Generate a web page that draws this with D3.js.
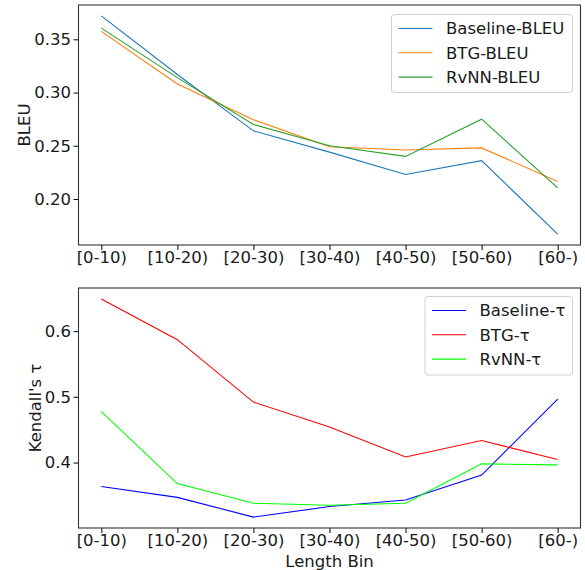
<!DOCTYPE html>
<html><head><meta charset="utf-8">
<script src="https://cdn.jsdelivr.net/npm/d3@7"></script>
<style>body{margin:0;background:#fff}svg{display:block;font-family:"DejaVu Sans",sans-serif}</style>
</head><body><svg id="c" width="585" height="570"></svg>
<script>
const categories = ["[0-10)","[10-20)","[20-30)","[30-40)","[40-50)","[50-60)","[60-)"];
const baselineBLEU = [0.372,0.317,0.264,0.244,0.223,0.236,0.167];
const btgBLEU      = [0.3575,0.308,0.2745,0.249,0.246,0.248,0.2165];
const rvnnBLEU     = [0.3605,0.314,0.270,0.250,0.240,0.275,0.2105];
const baselineTau  = [0.3635,0.347,0.317,0.333,0.343,0.381,0.4965];
const btgTau       = [0.649,0.587,0.492,0.454,0.4085,0.4335,0.4045];
const rvnnTau      = [0.4775,0.368,0.338,0.335,0.338,0.398,0.3965];
const bleuTicks = [0.20,0.25,0.30,0.35];
const tauTicks = [0.4,0.5,0.6];

const FS = 16.5;
const svg = d3.select("#c");
const L = 78.5, R = 580.5;
const x = d3.scaleLinear().domain([-0.3, categories.length - 1 + 0.3]).range([L, R]);

function panel(top, bottom, series, ticks, fmt, ylabel, ylabelX, legendBox) {
  const all = series.flatMap(s => s.values);
  const mn = d3.min(all), mx = d3.max(all), pad = (mx - mn) * 0.05;
  const y = d3.scaleLinear().domain([mn - pad, mx + pad]).range([bottom, top]);
  const g = svg.append("g");
  const line = d3.line().x((d, i) => x(i)).y(d => y(d));
  series.forEach(s => {
    g.append("path").datum(s.values).attr("d", line)
      .attr("fill", "none").attr("stroke", s.color).attr("stroke-width", 1.1);
  });
  const xa = g.append("g").attr("transform", `translate(0,${bottom})`)
    .call(d3.axisBottom(x).tickValues(d3.range(categories.length)).tickFormat(i => categories[i]).tickSize(5).tickSizeOuter(0));
  xa.select(".domain").remove();
  xa.attr("font-family", null).attr("font-size", null);
  xa.selectAll("line").attr("stroke", "#000");
  xa.selectAll("text").attr("font-size", FS).attr("fill", "#1a1a1a").attr("y", 8).attr("dy", "0.61em");
  const ya = g.append("g").attr("transform", `translate(${L},0)`)
    .call(d3.axisLeft(y).tickValues(ticks).tickFormat(fmt).tickSize(5).tickSizeOuter(0));
  ya.select(".domain").remove();
  ya.attr("font-family", null).attr("font-size", null);
  ya.selectAll("line").attr("stroke", "#000");
  ya.selectAll("text").attr("font-size", FS).attr("fill", "#1a1a1a").attr("x", -7.5);
  g.append("rect").attr("x", L).attr("y", top).attr("width", R - L).attr("height", bottom - top)
    .attr("fill", "none").attr("stroke", "#333").attr("stroke-width", 1.1);
  g.append("text").attr("transform", `translate(${ylabelX},${(top + bottom) / 2}) rotate(-90)`)
    .attr("text-anchor", "middle").attr("font-size", FS).attr("fill", "#1a1a1a").text(ylabel);
  const lb = legendBox;
  g.append("rect").attr("x", lb.x).attr("y", lb.y).attr("width", lb.w).attr("height", lb.h)
    .attr("rx", 3).attr("fill", "#fff").attr("fill-opacity", 0.8).attr("stroke", "#d0d0d0");
  series.forEach((s, i) => {
    const yy = lb.y + 14 + i * 24.3;
    g.append("line").attr("x1", lb.x + 7).attr("x2", lb.x + 41).attr("y1", yy).attr("y2", yy)
      .attr("stroke", s.color).attr("stroke-width", 1.1);
    g.append("text").attr("x", lb.x + 54.5).attr("y", yy).attr("dy", "0.36em")
      .attr("font-size", FS).attr("fill", "#1a1a1a").text(s.name);
  });
}

panel(5, 245, [
  {name: "Baseline-BLEU", values: baselineBLEU, color: "#1f77b4"},
  {name: "BTG-BLEU", values: btgBLEU, color: "#ff7f0e"},
  {name: "RvNN-BLEU", values: rvnnBLEU, color: "#2ca02c"}
], bleuTicks, d3.format(".2f"), "BLEU", 30, {x: 391.5, y: 14.5, w: 181, h: 78});

panel(288, 528, [
  {name: "Baseline-τ", values: baselineTau, color: "#0000ff"},
  {name: "BTG-τ", values: btgTau, color: "#ff0000"},
  {name: "RvNN-τ", values: rvnnTau, color: "#00ff00"}
], tauTicks, d3.format(".1f"), "Kendall's τ", 41, {x: 425, y: 296.5, w: 147.5, h: 78.5});

svg.append("text").attr("x", (L + R) / 2).attr("y", 566.5).attr("text-anchor", "middle")
  .attr("font-size", FS).attr("fill", "#1a1a1a").text("Length Bin");
</script></body></html>
